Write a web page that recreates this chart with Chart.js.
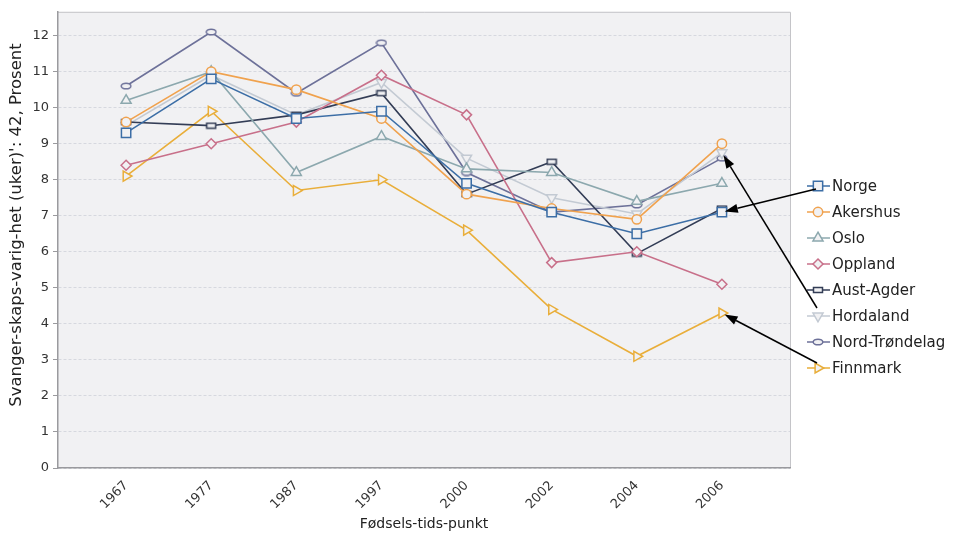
<!DOCTYPE html>
<html>
<head>
<meta charset="utf-8">
<script src="https://cdn.jsdelivr.net/npm/chart.js@4/dist/chart.umd.min.js"></script>
<style>
  html, body { margin: 0; padding: 0; background: #fff; }
  #wrap { width: 957px; height: 539px; }
</style>
</head>
<body>
<div id="wrap"><canvas id="myChart" width="957" height="539"></canvas></div>
<script>
// Fødsels-tidspunkt og andel svangerskap over 42 uker, per fylke
const years = ['1967', '1977', '1987', '1997', '2000', '2002', '2004', '2006'];
const norge = [9.3, 10.8, 9.7, 9.9, 7.9, 7.1, 6.5, 7.1];
const akershus = [9.6, 11.0, 10.5, 9.7, 7.6, 7.2, 6.9, 9.0];
const oslo = [10.2, 11.0, 8.2, 9.2, 8.3, 8.2, 7.4, 7.9];
const oppland = [8.4, 9.0, 9.6, 10.9, 9.8, 5.7, 6.0, 5.1];
const austAgder = [9.6, 9.5, 9.8, 10.4, 7.6, 8.5, 5.95, 7.2];
const hordaland = [9.5, 10.9, 9.8, 10.7, 8.6, 7.5, 7.05, 8.75];
const nordTrondelag = [10.6, 12.1, 10.4, 11.8, 8.2, 7.1, 7.3, 8.6];
const finnmark = [8.1, 9.9, 7.7, 8.0, 6.6, 4.4, 3.1, 4.3];
const yTicks = [0, 1, 2, 3, 4, 5, 6, 7, 8, 9, 10, 11, 12];

const plotBg = '#f1f1f3';
const fontFamily = "'DejaVu Sans', Verdana, sans-serif";
const yTittel = "Svanger-skaps-varig-het (uker)': 42, Prosent";

// flate markører (liggende rektangel og ellipse)
function flatMarker(color, kind) {
    const c = document.createElement('canvas');
    c.width = 12; c.height = 8;
    const g = c.getContext('2d');
    g.fillStyle = plotBg;
    g.strokeStyle = color;
    g.lineWidth = 1.5;
    g.beginPath();
    if (kind === 'rect') {
        g.rect(1.5, 1.5, 9, 5);
    } else {
        g.ellipse(6, 4, 4.8, 2.8, 0, 0, Math.PI * 2);
    }
    g.fill();
    g.stroke();
    return c;
}

const serier = [
    { label: 'Norge', data: norge, color: '#3c6ea6', style: 'rect', radius: 6.6, rotation: 0 },
    { label: 'Akershus', data: akershus, color: '#f0a24e', style: 'circle', radius: 4.7, rotation: 0 },
    { label: 'Oslo', data: oslo, color: '#8ca8ae', style: 'triangle', radius: 5.8, rotation: 0 },
    { label: 'Oppland', data: oppland, color: '#c8708a', style: 'rectRot', radius: 5, rotation: 0 },
    { label: 'Aust-Agder', data: austAgder, color: '#333d56', style: 'flatRect', radius: 5, rotation: 0 },
    { label: 'Hordaland', data: hordaland, color: '#c3cad3', style: 'triangle', radius: 5.8, rotation: 180 },
    { label: 'Nord-Trøndelag', data: nordTrondelag, color: '#6d7199', style: 'flatOval', radius: 5, rotation: 0 },
    { label: 'Finnmark', data: finnmark, color: '#e9ae3a', style: 'triangle', radius: 5.8, rotation: 90 }
];

function pointStyleFor(s) {
    if (s.style === 'flatRect') return flatMarker(s.color, 'rect');
    if (s.style === 'flatOval') return flatMarker(s.color, 'oval');
    return s.style;
}

const datasets = serier.map(s => ({
    label: s.label,
    data: s.data.map((v, i) => ({ x: i, y: v })),
    borderColor: s.color,
    backgroundColor: plotBg,
    borderWidth: 1.6,
    pointStyle: pointStyleFor(s),
    pointRotation: s.rotation,
    pointRadius: s.radius,
    pointBorderColor: s.color,
    pointBackgroundColor: plotBg,
    pointBorderWidth: 1.5,
    tension: 0
}));

// bakgrunn og ramme rundt plottet, pluss y-aksens tittel
const plotFrame = {
    id: 'plotFrame',
    beforeDraw(chart) {
        const { ctx, chartArea: a } = chart;
        ctx.save();
        ctx.fillStyle = plotBg;
        ctx.fillRect(a.left, a.top, a.right - a.left, a.bottom - a.top);
        ctx.strokeStyle = '#c4c4c8';
        ctx.lineWidth = 1;
        ctx.beginPath();
        ctx.moveTo(a.left, a.top + 0.5);
        ctx.lineTo(a.right + 0.5, a.top + 0.5);
        ctx.lineTo(a.right + 0.5, a.bottom);
        ctx.stroke();

        ctx.translate(17, 225);
        ctx.rotate(-Math.PI / 2);
        ctx.font = '16.5px ' + fontFamily;
        ctx.fillStyle = '#222';
        ctx.textAlign = 'center';
        ctx.textBaseline = 'middle';
        ctx.fillText(yTittel, 0, 0);
        ctx.restore();
    }
};

// tegnforklaring med linje og markør
function drawMarker(ctx, s, x, y) {
    ctx.save();
    ctx.strokeStyle = s.color;
    ctx.fillStyle = plotBg;
    ctx.lineWidth = 1.5;
    ctx.beginPath();
    if (s.style === 'flatRect' || s.style === 'flatOval') {
        const img = flatMarker(s.color, s.style === 'flatRect' ? 'rect' : 'oval');
        ctx.drawImage(img, Math.round(x - 6), Math.round(y - 4));
        ctx.restore();
        return;
    }
    const r = s.radius;
    if (s.style === 'rect') {
        const h = r * Math.SQRT1_2;
        ctx.rect(x - h, y - h, 2 * h, 2 * h);
    } else if (s.style === 'circle') {
        ctx.arc(x, y, r, 0, Math.PI * 2);
    } else if (s.style === 'rectRot') {
        ctx.moveTo(x, y - r); ctx.lineTo(x + r, y); ctx.lineTo(x, y + r); ctx.lineTo(x - r, y); ctx.closePath();
    } else if (s.style === 'triangle') {
        const rot = s.rotation * Math.PI / 180;
        for (let k = 0; k < 3; k++) {
            const ang = rot - Math.PI / 2 + k * 2 * Math.PI / 3;
            const px = x + Math.cos(ang) * r;
            const py = y + Math.sin(ang) * r;
            if (k === 0) ctx.moveTo(px, py); else ctx.lineTo(px, py);
        }
        ctx.closePath();
    }
    ctx.fill();
    ctx.stroke();
    ctx.restore();
}

const legendX = 807;
const legendTop = 186;
const legendStep = 26;

function arrow(ctx, x1, y1, x2, y2) {
    const ang = Math.atan2(y2 - y1, x2 - x1);
    const len = 13, half = 4.5;
    const bx = x2 - Math.cos(ang) * len, by = y2 - Math.sin(ang) * len;
    ctx.beginPath();
    ctx.moveTo(x1, y1);
    ctx.lineTo(bx, by);
    ctx.stroke();
    ctx.beginPath();
    ctx.moveTo(x2, y2);
    ctx.lineTo(bx + Math.sin(ang) * half, by - Math.cos(ang) * half);
    ctx.lineTo(bx - Math.sin(ang) * half, by + Math.cos(ang) * half);
    ctx.closePath();
    ctx.fill();
}

const legendAndArrows = {
    id: 'legendAndArrows',
    afterDraw(chart) {
        const ctx = chart.ctx;
        ctx.save();
        ctx.font = '15px ' + fontFamily;
        ctx.textBaseline = 'middle';
        ctx.textAlign = 'left';
        serier.forEach((s, i) => {
            const y = legendTop + i * legendStep;
            ctx.strokeStyle = s.color;
            ctx.lineWidth = 1.5;
            ctx.beginPath();
            ctx.moveTo(legendX, y);
            ctx.lineTo(legendX + 23, y);
            ctx.stroke();
            drawMarker(ctx, s, legendX + 11, y);
            ctx.fillStyle = '#222';
            ctx.fillText(s.label, legendX + 25, y + 1);
        });

        // piler fra tegnforklaringen til siste punkt (2006)
        ctx.strokeStyle = '#000';
        ctx.fillStyle = '#000';
        ctx.lineWidth = 1.5;
        const piler = [
            { ds: 0, sx: 816, sy: legendTop + 3 },
            { ds: 5, sx: 817, sy: legendTop + 5 * legendStep - 8 },
            { ds: 7, sx: 817, sy: legendTop + 7 * legendStep - 5 }
        ];
        piler.forEach(p => {
            const pt = chart.getDatasetMeta(p.ds).data[years.length - 1];
            const ang = Math.atan2(p.sy - pt.y, p.sx - pt.x);
            const tx = pt.x + Math.cos(ang) * 3;
            const ty = pt.y + Math.sin(ang) * 3;
            arrow(ctx, p.sx, p.sy, tx, ty);
        });
        ctx.restore();
    }
};

const ctx = document.getElementById('myChart').getContext('2d');
const myChart = new Chart(ctx, {
    type: 'line',
    data: { datasets: datasets },
    options: {
        responsive: false,
        animation: false,
        events: [],
        layout: {
            padding: { top: 10, right: 167, bottom: 0, left: 0 }
        },
        plugins: {
            legend: { display: false },
            tooltip: { enabled: false }
        },
        scales: {
            x: {
                type: 'linear',
                min: -0.8,
                max: 7.8,
                afterFit: s => { s.height = 71; },
                afterBuildTicks: s => { s.ticks = years.map((y, i) => ({ value: i })); },
                grid: { display: false },
                border: { display: true, color: '#9a9a9e', width: 1.5 },
                ticks: {
                    autoSkip: false,
                    minRotation: 45,
                    maxRotation: 45,
                    padding: 2,
                    color: '#333',
                    font: { family: fontFamily, size: 13 },
                    callback: v => years[v]
                },
                title: {
                    display: true,
                    text: 'Fødsels-tids-punkt',
                    color: '#222',
                    font: { family: fontFamily, size: 14 },
                    padding: { top: 0, bottom: 6 }
                }
            },
            y: {
                min: 0,
                max: 12.66,
                afterFit: s => { s.width = 58; },
                afterBuildTicks: s => { s.ticks = yTicks.map(v => ({ value: v })); },
                grid: {
                    color: '#d6d8df',
                    lineWidth: 1,
                    tickLength: 5,
                    tickColor: '#9a9a9e',
                    tickBorderDash: []
                },
                border: { display: true, color: '#9a9a9e', width: 1.5, dash: [3, 2] },
                ticks: {
                    padding: 4,
                    color: '#333',
                    font: { family: fontFamily, size: 13 }
                },
                title: { display: false }
            }
        }
    },
    plugins: [plotFrame, legendAndArrows]
});
</script>
</body>
</html>
